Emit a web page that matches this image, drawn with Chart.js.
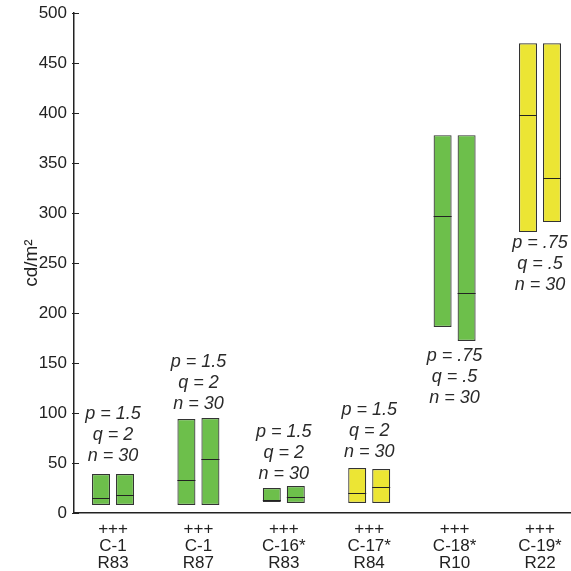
<!DOCTYPE html>
<html>
<head>
<meta charset="utf-8">
<script src="https://cdn.jsdelivr.net/npm/chart.js@4"></script>
<style>
  html, body { margin: 0; padding: 0; background: #fff; }
  #wrap { width: 571px; height: 571px; }
</style>
</head>
<body>
<div id="wrap"><canvas id="boxChart" width="571" height="571"></canvas></div>
<script>
// categories (three-line x labels)
const categories = [
  ["+++", "C-1", "R83"],
  ["+++", "C-1", "R87"],
  ["+++", "C-16*", "R83"],
  ["+++", "C-17*", "R84"],
  ["+++", "C-18*", "R10"],
  ["+++", "C-19*", "R22"]
];

// first box of each pair: min, median, max (cd/m2)
const leftMin = [8, 8, 11, 10, 186, 281];
const leftMed = [15, 33, 13, 20, 297, 398];
const leftMax = [39, 94, 25, 45, 378, 470];

// second box of each pair
const rightMin = [8, 8, 10, 10, 172, 291];
const rightMed = [18, 54, 16, 26, 220, 335];
const rightMax = [39, 95, 27, 44, 378, 470];

// fill colour per group
const groupColors = ["#6dbf4b", "#6dbf4b", "#6dbf4b", "#ece534", "#6dbf4b", "#ece534"];

// annotation text per group
const notes = [
  ["p = 1.5", "q = 2", "n = 30"],
  ["p = 1.5", "q = 2", "n = 30"],
  ["p = 1.5", "q = 2", "n = 30"],
  ["p = 1.5", "q = 2", "n = 30"],
  ["p = .75", "q = .5", "n = 30"],
  ["p = .75", "q = .5", "n = 30"]
];
// where the first annotation line sits, in axis units
const noteAt = [99, 151, 81, 103, 157, 270];

const yTicks = [0, 50, 100, 150, 200, 250, 300, 350, 400, 450, 500];

const FONT = "'Liberation Sans', Arial, sans-serif";

function boxes(mins, maxs) {
  return mins.map((lo, i) => ({ x: i, y: [lo, maxs[i]] }));
}

// median lines drawn across each bar
const medianPlugin = {
  id: "medians",
  afterDatasetsDraw(chart) {
    const ctx = chart.ctx;
    const yScale = chart.scales.y;
    [leftMed, rightMed].forEach((meds, d) => {
      const meta = chart.getDatasetMeta(d);
      meta.data.forEach((bar, i) => {
        const y = Math.round(yScale.getPixelForValue(meds[i])) + 0.5;
        ctx.save();
        ctx.strokeStyle = "#222";
        ctx.lineWidth = 1;
        ctx.beginPath();
        ctx.moveTo(bar.x - bar.width / 2, y);
        ctx.lineTo(bar.x + bar.width / 2, y);
        ctx.stroke();
        ctx.restore();
      });
    });
  }
};

// small tick marks pointing into the plot, as in the original
const innerTicks = {
  id: "innerTicks",
  afterDraw(chart) {
    const ctx = chart.ctx;
    const yScale = chart.scales.y;
    const left = chart.chartArea.left;
    ctx.save();
    ctx.strokeStyle = "#222";
    ctx.lineWidth = 1;
    yScale.ticks.forEach(t => {
      const y = Math.round(yScale.getPixelForValue(t.value)) + 0.5;
      ctx.beginPath();
      ctx.moveTo(left - 2, y);
      ctx.lineTo(left + 5, y);
      ctx.stroke();
    });
    ctx.restore();
  }
};

// p/q/n text above or below each pair
const notePlugin = {
  id: "notes",
  afterDatasetsDraw(chart) {
    const ctx = chart.ctx;
    const xScale = chart.scales.x;
    const yScale = chart.scales.y;
    ctx.save();
    ctx.font = "italic 18px " + FONT;
    ctx.fillStyle = "#2a2a2a";
    ctx.textAlign = "center";
    ctx.textBaseline = "middle";
    notes.forEach((lines, i) => {
      const x = xScale.getPixelForValue(i);
      const y0 = yScale.getPixelForValue(noteAt[i]);
      lines.forEach((t, k) => ctx.fillText(t, x, y0 + k * 21));
    });
    ctx.restore();
  }
};

new Chart(document.getElementById("boxChart"), {
  type: "bar",
  data: {
    datasets: [
      {
        data: boxes(leftMin, leftMax),
        backgroundColor: groupColors,
        borderColor: "#333",
        borderWidth: 1.2,
        borderSkipped: false
      },
      {
        data: boxes(rightMin, rightMax),
        backgroundColor: groupColors,
        borderColor: "#333",
        borderWidth: 1.2,
        borderSkipped: false
      }
    ]
  },
  options: {
    responsive: false,
    animation: false,
    categoryPercentage: 0.562,
    barPercentage: 0.75,
    layout: { padding: { top: 13, right: 0, left: 0, bottom: 0 } },
    plugins: {
      legend: { display: false },
      tooltip: { enabled: false }
    },
    scales: {
      x: {
        type: "linear",
        offset: false,
        min: -0.457,
        max: 5.363,
        grid: { display: false },
        border: { color: "#222", width: 1.5 },
        afterBuildTicks: axis => { axis.ticks = categories.map((_, i) => ({ value: i })); },
        afterFit: axis => { axis.height = 58; },
        ticks: {
          autoSkip: false,
          maxRotation: 0,
          padding: 0,
          color: "#222",
          font: { family: FONT, size: 17, lineHeight: "17px" },
          callback: v => categories[v]
        }
      },
      y: {
        min: 0,
        max: 500,
        afterBuildTicks: axis => { axis.ticks = yTicks.map(v => ({ value: v })); },
        afterFit: axis => { axis.width = 74; },
        // outer ticks kept for spacing only, drawn invisible
        grid: { drawOnChartArea: false, drawTicks: true, tickLength: 4, color: "rgba(0,0,0,0)" },
        border: { color: "#222", width: 1.5 },
        ticks: {
          padding: 3,
          color: "#222",
          font: { family: FONT, size: 17 }
        },
        title: {
          display: true,
          text: "cd/m\u00b2",
          color: "#222",
          font: { family: FONT, size: 19 },
          padding: { top: 20, bottom: 0 }
        }
      }
    }
  },
  plugins: [medianPlugin, notePlugin, innerTicks]
});
</script>
</body>
</html>
